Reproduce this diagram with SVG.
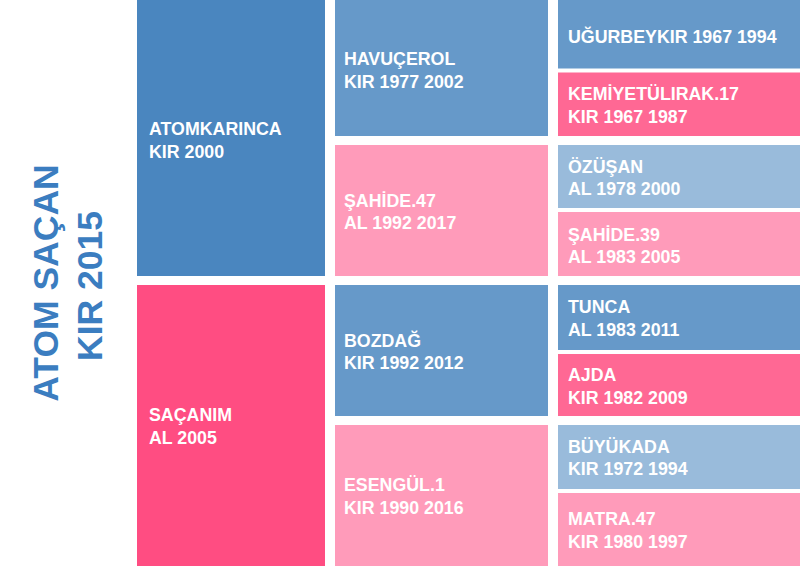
<svg xmlns="http://www.w3.org/2000/svg" width="800" height="566" viewBox="0 0 800 566">
<style>
.t{font-family:"Liberation Sans",Arial,sans-serif;font-weight:bold;font-size:17.8px;fill:#ffffff}
.title{font-family:"Liberation Sans",Arial,sans-serif;font-weight:bold;font-size:35.5px;fill:#3b7dc0}
.dk{fill:#4a86bf}.md{fill:#6699c9}.lb{fill:#99bbdb}
.pk{fill:#ff4d82}.hp{fill:#ff6894}.lp{fill:#ff9bba}
</style>
<rect width="800" height="566" fill="#ffffff"/>
<g id="title">
<text class="title" text-anchor="middle" transform="translate(57.5,283) rotate(-90)">ATOM SAÇAN</text>
<text class="title" text-anchor="middle" transform="translate(102,286) rotate(-90)">KIR 2015</text>
</g>
<g id="connectors"></g>
<g id="atomkarinca"><rect class="dk" x="137" y="0" width="188" height="276"/><text class="t" x="149" y="135">ATOMKARINCA</text><text class="t" x="149" y="158">KIR 2000</text></g>
<g id="sacanim"><rect class="pk" x="137" y="285" width="188" height="281"/><text class="t" x="149" y="421">SAÇANIM</text><text class="t" x="149" y="443.5">AL 2005</text></g>
<g id="havucerol"><rect class="md" x="335" y="0" width="213" height="136"/><text class="t" x="344" y="65">HAVUÇEROL</text><text class="t" x="344" y="88">KIR 1977 2002</text></g>
<g id="sahide47"><rect class="lp" x="335" y="145" width="213" height="131"/><text class="t" x="344" y="206.5">ŞAHİDE.47</text><text class="t" x="344" y="228.5">AL 1992 2017</text></g>
<g id="bozdag"><rect class="md" x="335" y="285" width="213" height="131"/><text class="t" x="344" y="346.5">BOZDAĞ</text><text class="t" x="344" y="369">KIR 1992 2012</text></g>
<g id="esengul1"><rect class="lp" x="335" y="425" width="213" height="141"/><text class="t" x="344" y="491">ESENGÜL.1</text><text class="t" x="344" y="513.5">KIR 1990 2016</text></g>
<g id="ugurbey"><rect class="md" x="558" y="0" width="242" height="68.5"/><text class="t" x="568" y="43">UĞURBEYKIR 1967 1994</text></g>
<g id="kemiyet"><rect class="hp" x="558" y="72.5" width="242" height="63.5"/><text class="t" x="568" y="100">KEMİYETÜLIRAK.17</text><text class="t" x="568" y="123">KIR 1967 1987</text></g>
<g id="ozusan"><rect class="lb" x="558" y="145" width="242" height="63"/><text class="t" x="568" y="172.5">ÖZÜŞAN</text><text class="t" x="568" y="195">AL 1978 2000</text></g>
<g id="sahide39"><rect class="lp" x="558" y="212" width="242" height="64"/><text class="t" x="568" y="240.5">ŞAHİDE.39</text><text class="t" x="568" y="263">AL 1983 2005</text></g>
<g id="tunca"><rect class="md" x="558" y="285" width="242" height="65"/><text class="t" x="568" y="312.5">TUNCA</text><text class="t" x="568" y="335.5">AL 1983 2011</text></g>
<g id="ajda"><rect class="hp" x="558" y="354" width="242" height="62"/><text class="t" x="568" y="381">AJDA</text><text class="t" x="568" y="404">KIR 1982 2009</text></g>
<g id="buyukada"><rect class="lb" x="558" y="425" width="242" height="64"/><text class="t" x="568" y="452.5">BÜYÜKADA</text><text class="t" x="568" y="475">KIR 1972 1994</text></g>
<g id="matra47"><rect class="lp" x="558" y="493" width="242" height="73"/><text class="t" x="568" y="525">MATRA.47</text><text class="t" x="568" y="548">KIR 1980 1997</text></g>
</svg>
